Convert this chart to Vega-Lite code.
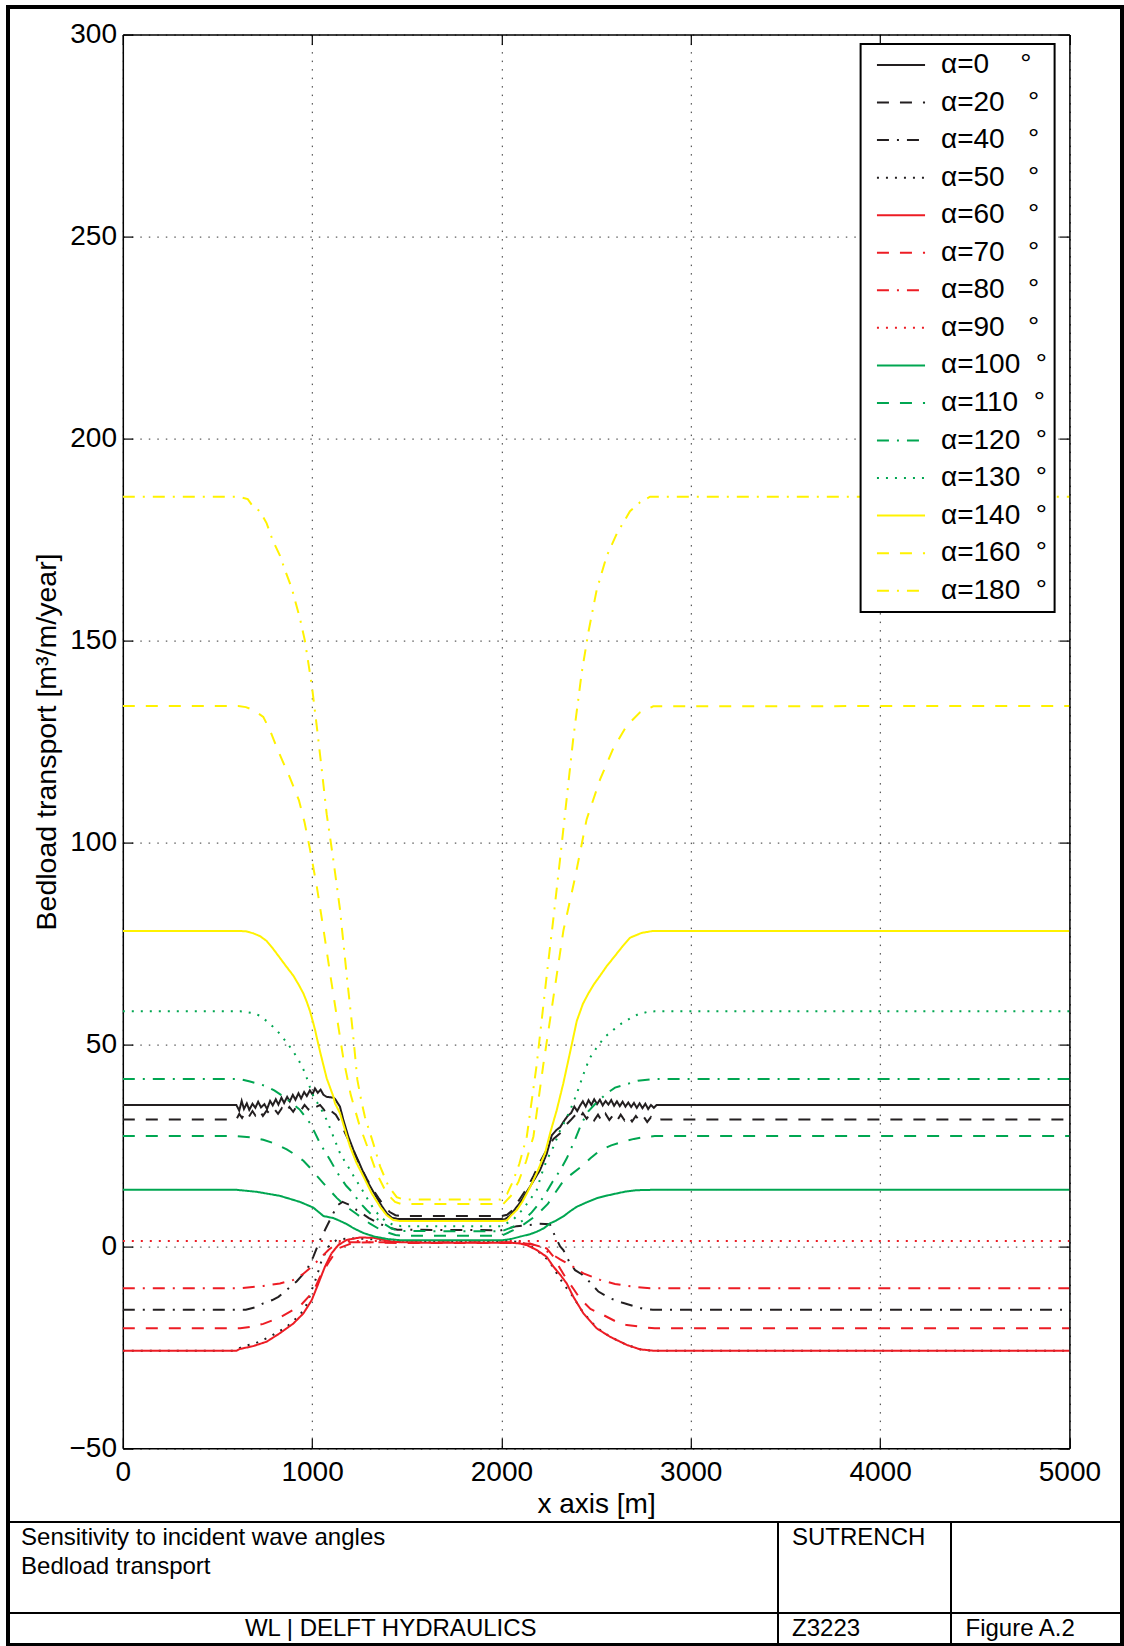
{
  "$schema": "https://vega.github.io/schema/vega-lite/v6.json",
  "width": 946.6,
  "height": 1413.7,
  "autosize": {"type": "none"},
  "padding": {"left": 122.8, "top": 34.6, "right": 54.6, "bottom": 197.7},
  "background": "white",
  "config": {
    "font": "Liberation Sans",
    "view": {"stroke": null},
    "legend": {"strokeColor": "black", "strokeWidth": 2, "fillColor": "white"}
  },
  "datasets": {
    "curves": [
      {"a":"0","x":0,"y":35.0},{"a":"0","x":600,"y":35.0},{"a":"0","x":615,"y":33.6},{"a":"0","x":628,"y":36.0},{"a":"0","x":640,"y":34.0},{"a":"0","x":655,"y":35.4},{"a":"0","x":668,"y":33.8},{"a":"0","x":685,"y":35.3},{"a":"0","x":700,"y":34.3},{"a":"0","x":715,"y":35.8},{"a":"0","x":730,"y":34.4},{"a":"0","x":748,"y":35.2},{"a":"0","x":762,"y":34.0},{"a":"0","x":778,"y":36.0},{"a":"0","x":792,"y":34.9},{"a":"0","x":808,"y":36.4},{"a":"0","x":822,"y":35.1},{"a":"0","x":838,"y":36.8},{"a":"0","x":852,"y":35.5},{"a":"0","x":868,"y":37.0},{"a":"0","x":882,"y":35.9},{"a":"0","x":898,"y":37.5},{"a":"0","x":912,"y":36.3},{"a":"0","x":928,"y":37.9},{"a":"0","x":942,"y":36.6},{"a":"0","x":958,"y":38.2},{"a":"0","x":972,"y":37.2},{"a":"0","x":988,"y":38.6},{"a":"0","x":1002,"y":37.6},{"a":"0","x":1015,"y":39.1},{"a":"0","x":1030,"y":38.0},{"a":"0","x":1045,"y":38.8},{"a":"0","x":1060,"y":37.5},{"a":"0","x":1077,"y":37.0},{"a":"0","x":1112,"y":36.8},{"a":"0","x":1121,"y":36.5},{"a":"0","x":1147,"y":34.6},{"a":"0","x":1165,"y":31.3},{"a":"0","x":1191,"y":27.2},{"a":"0","x":1218,"y":23.9},{"a":"0","x":1253,"y":20.2},{"a":"0","x":1288,"y":16.4},{"a":"0","x":1332,"y":12.8},{"a":"0","x":1368,"y":10.0},{"a":"0","x":1394,"y":8.2},{"a":"0","x":1421,"y":7.1},{"a":"0","x":1450,"y":6.8},{"a":"0","x":2000,"y":6.8},{"a":"0","x":2015,"y":6.6},{"a":"0","x":2045,"y":7.6},{"a":"0","x":2098,"y":10.8},{"a":"0","x":2151,"y":14.8},{"a":"0","x":2204,"y":18.9},{"a":"0","x":2239,"y":22.9},{"a":"0","x":2266,"y":27.5},{"a":"0","x":2290,"y":28.8},{"a":"0","x":2310,"y":29.5},{"a":"0","x":2330,"y":31.0},{"a":"0","x":2350,"y":32.3},{"a":"0","x":2368,"y":33.0},{"a":"0","x":2385,"y":34.6},{"a":"0","x":2400,"y":33.5},{"a":"0","x":2415,"y":34.8},{"a":"0","x":2430,"y":35.9},{"a":"0","x":2445,"y":34.6},{"a":"0","x":2460,"y":36.2},{"a":"0","x":2475,"y":35.0},{"a":"0","x":2490,"y":36.4},{"a":"0","x":2505,"y":35.2},{"a":"0","x":2520,"y":36.3},{"a":"0","x":2535,"y":34.9},{"a":"0","x":2550,"y":36.0},{"a":"0","x":2565,"y":35.1},{"a":"0","x":2580,"y":36.2},{"a":"0","x":2595,"y":34.8},{"a":"0","x":2610,"y":35.9},{"a":"0","x":2625,"y":34.7},{"a":"0","x":2640,"y":35.8},{"a":"0","x":2655,"y":34.6},{"a":"0","x":2670,"y":35.6},{"a":"0","x":2685,"y":34.5},{"a":"0","x":2700,"y":35.5},{"a":"0","x":2715,"y":34.3},{"a":"0","x":2730,"y":35.4},{"a":"0","x":2745,"y":34.2},{"a":"0","x":2760,"y":35.3},{"a":"0","x":2775,"y":34.0},{"a":"0","x":2790,"y":35.0},{"a":"0","x":2805,"y":34.3},{"a":"0","x":2820,"y":35.0},{"a":"0","x":5000,"y":35.0},

      {"a":"20","x":0,"y":31.4},{"a":"20","x":600,"y":31.4},{"a":"20","x":615,"y":32.8},{"a":"20","x":630,"y":31.8},{"a":"20","x":648,"y":33.2},{"a":"20","x":665,"y":32.0},{"a":"20","x":685,"y":33.5},{"a":"20","x":700,"y":32.4},{"a":"20","x":720,"y":33.8},{"a":"20","x":740,"y":32.3},{"a":"20","x":760,"y":33.6},{"a":"20","x":780,"y":32.6},{"a":"20","x":800,"y":34.0},{"a":"20","x":820,"y":32.8},{"a":"20","x":840,"y":34.2},{"a":"20","x":860,"y":33.0},{"a":"20","x":880,"y":34.5},{"a":"20","x":900,"y":33.3},{"a":"20","x":920,"y":34.8},{"a":"20","x":940,"y":33.6},{"a":"20","x":960,"y":35.0},{"a":"20","x":980,"y":33.9},{"a":"20","x":1000,"y":35.3},{"a":"20","x":1020,"y":34.5},{"a":"20","x":1042,"y":35.0},{"a":"20","x":1060,"y":34.0},{"a":"20","x":1080,"y":32.5},{"a":"20","x":1100,"y":33.5},{"a":"20","x":1125,"y":32.6},{"a":"20","x":1150,"y":30.6},{"a":"20","x":1175,"y":28.0},{"a":"20","x":1200,"y":25.5},{"a":"20","x":1230,"y":22.3},{"a":"20","x":1260,"y":19.4},{"a":"20","x":1290,"y":16.6},{"a":"20","x":1320,"y":14.2},{"a":"20","x":1350,"y":12.0},{"a":"20","x":1380,"y":10.0},{"a":"20","x":1410,"y":8.5},{"a":"20","x":1440,"y":7.7},{"a":"20","x":1470,"y":7.5},{"a":"20","x":2000,"y":7.5},{"a":"20","x":2030,"y":7.8},{"a":"20","x":2060,"y":9.0},{"a":"20","x":2098,"y":11.8},{"a":"20","x":2134,"y":14.3},{"a":"20","x":2170,"y":17.5},{"a":"20","x":2205,"y":21.0},{"a":"20","x":2240,"y":24.0},{"a":"20","x":2275,"y":26.6},{"a":"20","x":2310,"y":28.0},{"a":"20","x":2340,"y":30.0},{"a":"20","x":2365,"y":31.2},{"a":"20","x":2390,"y":32.5},{"a":"20","x":2410,"y":31.4},{"a":"20","x":2430,"y":33.0},{"a":"20","x":2450,"y":31.6},{"a":"20","x":2470,"y":32.9},{"a":"20","x":2490,"y":31.2},{"a":"20","x":2510,"y":32.6},{"a":"20","x":2530,"y":31.0},{"a":"20","x":2550,"y":32.8},{"a":"20","x":2570,"y":31.3},{"a":"20","x":2590,"y":32.5},{"a":"20","x":2610,"y":31.0},{"a":"20","x":2630,"y":32.6},{"a":"20","x":2650,"y":31.2},{"a":"20","x":2670,"y":32.4},{"a":"20","x":2690,"y":30.9},{"a":"20","x":2710,"y":32.3},{"a":"20","x":2730,"y":31.0},{"a":"20","x":2750,"y":32.2},{"a":"20","x":2770,"y":30.8},{"a":"20","x":2790,"y":32.0},{"a":"20","x":2810,"y":31.0},{"a":"20","x":2840,"y":31.4},{"a":"20","x":5000,"y":31.4},

      {"a":"40","x":0,"y":-15.7},{"a":"40","x":650,"y":-15.7},{"a":"40","x":707,"y":-15.0},{"a":"40","x":742,"y":-14.1},{"a":"40","x":790,"y":-13.3},{"a":"40","x":822,"y":-12.5},{"a":"40","x":866,"y":-10.8},{"a":"40","x":918,"y":-8.7},{"a":"40","x":971,"y":-5.9},{"a":"40","x":1006,"y":-2.6},{"a":"40","x":1042,"y":1.6},{"a":"40","x":1077,"y":4.9},{"a":"40","x":1112,"y":8.2},{"a":"40","x":1138,"y":10.3},{"a":"40","x":1160,"y":11.0},{"a":"40","x":1200,"y":10.2},{"a":"40","x":1235,"y":9.0},{"a":"40","x":1300,"y":7.0},{"a":"40","x":1360,"y":5.5},{"a":"40","x":1411,"y":4.6},{"a":"40","x":1450,"y":4.1},{"a":"40","x":2000,"y":4.0},{"a":"40","x":2040,"y":4.5},{"a":"40","x":2081,"y":5.0},{"a":"40","x":2150,"y":5.3},{"a":"40","x":2200,"y":5.6},{"a":"40","x":2256,"y":5.5},{"a":"40","x":2283,"y":2.5},{"a":"40","x":2310,"y":0.0},{"a":"40","x":2327,"y":-0.9},{"a":"40","x":2360,"y":-4.0},{"a":"40","x":2389,"y":-5.9},{"a":"40","x":2424,"y":-6.9},{"a":"40","x":2470,"y":-9.0},{"a":"40","x":2512,"y":-11.2},{"a":"40","x":2570,"y":-12.8},{"a":"40","x":2636,"y":-13.9},{"a":"40","x":2700,"y":-14.8},{"a":"40","x":2750,"y":-15.5},{"a":"40","x":2800,"y":-15.7},{"a":"40","x":5000,"y":-15.7},

      {"a":"50","x":0,"y":-25.85},{"a":"50","x":590,"y":-25.85},{"a":"50","x":628,"y":-24.9},{"a":"50","x":700,"y":-24.0},{"a":"50","x":777,"y":-22.4},{"a":"50","x":866,"y":-19.9},{"a":"50","x":936,"y":-17.0},{"a":"50","x":975,"y":-14.1},{"a":"50","x":998,"y":-10.8},{"a":"50","x":1024,"y":-7.5},{"a":"50","x":1051,"y":-3.4},{"a":"50","x":1086,"y":-0.1},{"a":"50","x":1130,"y":1.6},{"a":"50","x":1200,"y":2.0},{"a":"50","x":1300,"y":1.8},{"a":"50","x":1400,"y":1.5},{"a":"50","x":1500,"y":1.3},{"a":"50","x":2050,"y":1.3},{"a":"50","x":2100,"y":1.0},{"a":"50","x":2150,"y":0.2},{"a":"50","x":2200,"y":-1.5},{"a":"50","x":2250,"y":-3.5},{"a":"50","x":2290,"y":-6.5},{"a":"50","x":2330,"y":-9.5},{"a":"50","x":2371,"y":-12.0},{"a":"50","x":2430,"y":-16.3},{"a":"50","x":2500,"y":-20.0},{"a":"50","x":2574,"y":-22.4},{"a":"50","x":2662,"y":-24.4},{"a":"50","x":2740,"y":-25.6},{"a":"50","x":2800,"y":-25.85},{"a":"50","x":5000,"y":-25.85},

      {"a":"60","x":0,"y":-25.85},{"a":"60","x":600,"y":-25.85},{"a":"60","x":619,"y":-25.4},{"a":"60","x":689,"y":-24.7},{"a":"60","x":760,"y":-23.6},{"a":"60","x":830,"y":-21.5},{"a":"60","x":901,"y":-19.1},{"a":"60","x":954,"y":-16.6},{"a":"60","x":998,"y":-13.3},{"a":"60","x":1033,"y":-9.2},{"a":"60","x":1068,"y":-5.0},{"a":"60","x":1103,"y":-1.7},{"a":"60","x":1138,"y":0.3},{"a":"60","x":1183,"y":1.6},{"a":"60","x":1253,"y":2.2},{"a":"60","x":1324,"y":2.1},{"a":"60","x":1429,"y":1.1},{"a":"60","x":1570,"y":0.9},{"a":"60","x":2050,"y":0.9},{"a":"60","x":2100,"y":0.7},{"a":"60","x":2134,"y":0.3},{"a":"60","x":2186,"y":-0.9},{"a":"60","x":2239,"y":-2.6},{"a":"60","x":2274,"y":-5.0},{"a":"60","x":2310,"y":-7.0},{"a":"60","x":2345,"y":-9.2},{"a":"60","x":2380,"y":-12.5},{"a":"60","x":2433,"y":-16.6},{"a":"60","x":2503,"y":-20.3},{"a":"60","x":2574,"y":-22.4},{"a":"60","x":2662,"y":-24.4},{"a":"60","x":2732,"y":-25.5},{"a":"60","x":2802,"y":-25.85},{"a":"60","x":5000,"y":-25.85},

      {"a":"70","x":0,"y":-20.3},{"a":"70","x":620,"y":-20.3},{"a":"70","x":680,"y":-19.9},{"a":"70","x":742,"y":-19.2},{"a":"70","x":830,"y":-17.6},{"a":"70","x":936,"y":-14.8},{"a":"70","x":1006,"y":-11.2},{"a":"70","x":1042,"y":-7.5},{"a":"70","x":1095,"y":-3.4},{"a":"70","x":1138,"y":-0.5},{"a":"70","x":1218,"y":0.9},{"a":"70","x":1324,"y":1.0},{"a":"70","x":1450,"y":0.8},{"a":"70","x":2100,"y":0.8},{"a":"70","x":2150,"y":0.6},{"a":"70","x":2200,"y":0.0},{"a":"70","x":2239,"y":-0.5},{"a":"70","x":2274,"y":-2.5},{"a":"70","x":2310,"y":-5.5},{"a":"70","x":2336,"y":-7.5},{"a":"70","x":2380,"y":-10.5},{"a":"70","x":2415,"y":-12.9},{"a":"70","x":2470,"y":-15.5},{"a":"70","x":2538,"y":-17.0},{"a":"70","x":2600,"y":-18.5},{"a":"70","x":2662,"y":-19.5},{"a":"70","x":2768,"y":-20.1},{"a":"70","x":2810,"y":-20.3},{"a":"70","x":5000,"y":-20.3},

      {"a":"80","x":0,"y":-10.4},{"a":"80","x":620,"y":-10.4},{"a":"80","x":742,"y":-9.8},{"a":"80","x":830,"y":-9.2},{"a":"80","x":901,"y":-8.3},{"a":"80","x":954,"y":-6.8},{"a":"80","x":998,"y":-5.0},{"a":"80","x":1042,"y":-3.0},{"a":"80","x":1086,"y":-0.9},{"a":"80","x":1130,"y":0.7},{"a":"80","x":1200,"y":1.0},{"a":"80","x":2100,"y":1.0},{"a":"80","x":2150,"y":0.7},{"a":"80","x":2200,"y":0.0},{"a":"80","x":2250,"y":-1.5},{"a":"80","x":2310,"y":-3.2},{"a":"80","x":2363,"y":-4.6},{"a":"80","x":2433,"y":-6.7},{"a":"80","x":2521,"y":-8.3},{"a":"80","x":2600,"y":-9.3},{"a":"80","x":2662,"y":-9.8},{"a":"80","x":2785,"y":-10.4},{"a":"80","x":5000,"y":-10.4},

      {"a":"90","x":0,"y":1.3},{"a":"90","x":5000,"y":1.3},

      {"a":"100","x":0,"y":14.0},{"a":"100","x":600,"y":14.0},{"a":"100","x":707,"y":13.5},{"a":"100","x":830,"y":12.5},{"a":"100","x":936,"y":11.0},{"a":"100","x":1006,"y":9.6},{"a":"100","x":1060,"y":7.5},{"a":"100","x":1112,"y":7.0},{"a":"100","x":1147,"y":6.3},{"a":"100","x":1183,"y":5.5},{"a":"100","x":1218,"y":4.5},{"a":"100","x":1271,"y":3.3},{"a":"100","x":1330,"y":2.4},{"a":"100","x":1400,"y":1.8},{"a":"100","x":1470,"y":1.5},{"a":"100","x":2000,"y":1.5},{"a":"100","x":2050,"y":1.8},{"a":"100","x":2098,"y":2.4},{"a":"100","x":2150,"y":3.0},{"a":"100","x":2186,"y":3.6},{"a":"100","x":2225,"y":4.5},{"a":"100","x":2257,"y":5.7},{"a":"100","x":2290,"y":6.4},{"a":"100","x":2327,"y":7.4},{"a":"100","x":2360,"y":8.6},{"a":"100","x":2398,"y":9.8},{"a":"100","x":2450,"y":10.9},{"a":"100","x":2503,"y":11.9},{"a":"100","x":2560,"y":12.6},{"a":"100","x":2609,"y":13.1},{"a":"100","x":2660,"y":13.6},{"a":"100","x":2715,"y":13.9},{"a":"100","x":2800,"y":14.0},{"a":"100","x":5000,"y":14.0},

      {"a":"110","x":0,"y":27.3},{"a":"110","x":600,"y":27.3},{"a":"110","x":680,"y":27.0},{"a":"110","x":742,"y":26.4},{"a":"110","x":800,"y":25.5},{"a":"110","x":866,"y":24.0},{"a":"110","x":910,"y":22.7},{"a":"110","x":954,"y":21.2},{"a":"110","x":990,"y":19.4},{"a":"110","x":1024,"y":17.5},{"a":"110","x":1060,"y":15.6},{"a":"110","x":1095,"y":13.8},{"a":"110","x":1130,"y":12.0},{"a":"110","x":1165,"y":10.5},{"a":"110","x":1200,"y":9.2},{"a":"110","x":1235,"y":8.0},{"a":"110","x":1270,"y":6.8},{"a":"110","x":1306,"y":5.6},{"a":"110","x":1350,"y":4.4},{"a":"110","x":1394,"y":3.5},{"a":"110","x":1440,"y":2.8},{"a":"110","x":1480,"y":2.6},{"a":"110","x":2000,"y":2.6},{"a":"110","x":2063,"y":4.0},{"a":"110","x":2120,"y":5.5},{"a":"110","x":2180,"y":7.5},{"a":"110","x":2245,"y":10.5},{"a":"110","x":2280,"y":13.0},{"a":"110","x":2318,"y":15.6},{"a":"110","x":2360,"y":17.5},{"a":"110","x":2415,"y":19.5},{"a":"110","x":2470,"y":21.8},{"a":"110","x":2521,"y":23.8},{"a":"110","x":2580,"y":25.0},{"a":"110","x":2635,"y":25.8},{"a":"110","x":2700,"y":26.6},{"a":"110","x":2759,"y":27.1},{"a":"110","x":2810,"y":27.3},{"a":"110","x":5000,"y":27.3},

      {"a":"120","x":0,"y":41.4},{"a":"120","x":620,"y":41.4},{"a":"120","x":672,"y":40.8},{"a":"120","x":720,"y":40.2},{"a":"120","x":760,"y":39.6},{"a":"120","x":800,"y":38.6},{"a":"120","x":848,"y":37.1},{"a":"120","x":890,"y":35.6},{"a":"120","x":936,"y":33.8},{"a":"120","x":960,"y":32.3},{"a":"120","x":989,"y":30.5},{"a":"120","x":1015,"y":28.1},{"a":"120","x":1042,"y":25.5},{"a":"120","x":1070,"y":23.3},{"a":"120","x":1095,"y":21.4},{"a":"120","x":1120,"y":19.3},{"a":"120","x":1147,"y":17.2},{"a":"120","x":1180,"y":15.0},{"a":"120","x":1218,"y":13.1},{"a":"120","x":1250,"y":10.9},{"a":"120","x":1288,"y":9.0},{"a":"120","x":1330,"y":7.2},{"a":"120","x":1376,"y":5.7},{"a":"120","x":1420,"y":4.4},{"a":"120","x":1460,"y":3.8},{"a":"120","x":2000,"y":3.7},{"a":"120","x":2060,"y":4.8},{"a":"120","x":2116,"y":6.5},{"a":"120","x":2160,"y":8.4},{"a":"120","x":2195,"y":10.4},{"a":"120","x":2235,"y":13.2},{"a":"120","x":2270,"y":16.0},{"a":"120","x":2310,"y":18.8},{"a":"120","x":2345,"y":21.8},{"a":"120","x":2385,"y":26.0},{"a":"120","x":2424,"y":30.5},{"a":"120","x":2460,"y":33.5},{"a":"120","x":2500,"y":35.5},{"a":"120","x":2560,"y":38.0},{"a":"120","x":2600,"y":39.3},{"a":"120","x":2644,"y":39.9},{"a":"120","x":2720,"y":41.0},{"a":"120","x":2800,"y":41.4},{"a":"120","x":5000,"y":41.4},

      {"a":"130","x":0,"y":58.2},{"a":"130","x":620,"y":58.2},{"a":"130","x":680,"y":57.8},{"a":"130","x":725,"y":57.1},{"a":"130","x":780,"y":55.0},{"a":"130","x":830,"y":52.6},{"a":"130","x":870,"y":50.2},{"a":"130","x":901,"y":48.2},{"a":"130","x":930,"y":46.0},{"a":"130","x":954,"y":43.8},{"a":"130","x":975,"y":41.3},{"a":"130","x":989,"y":39.3},{"a":"130","x":1010,"y":36.8},{"a":"130","x":1042,"y":34.5},{"a":"130","x":1077,"y":31.3},{"a":"130","x":1112,"y":27.2},{"a":"130","x":1147,"y":23.1},{"a":"130","x":1175,"y":20.8},{"a":"130","x":1200,"y":19.0},{"a":"130","x":1225,"y":16.9},{"a":"130","x":1253,"y":14.9},{"a":"130","x":1280,"y":12.7},{"a":"130","x":1306,"y":10.7},{"a":"130","x":1330,"y":9.0},{"a":"130","x":1359,"y":7.4},{"a":"130","x":1390,"y":6.2},{"a":"130","x":1429,"y":5.3},{"a":"130","x":1470,"y":5.0},{"a":"130","x":2000,"y":5.0},{"a":"130","x":2060,"y":6.5},{"a":"130","x":2110,"y":9.0},{"a":"130","x":2150,"y":11.5},{"a":"130","x":2186,"y":13.9},{"a":"130","x":2213,"y":18.0},{"a":"130","x":2239,"y":21.3},{"a":"130","x":2274,"y":24.6},{"a":"130","x":2310,"y":28.7},{"a":"130","x":2335,"y":31.0},{"a":"130","x":2363,"y":33.7},{"a":"130","x":2398,"y":37.8},{"a":"130","x":2433,"y":42.6},{"a":"130","x":2465,"y":46.5},{"a":"130","x":2503,"y":49.2},{"a":"130","x":2545,"y":51.8},{"a":"130","x":2591,"y":53.6},{"a":"130","x":2635,"y":55.2},{"a":"130","x":2679,"y":56.4},{"a":"130","x":2720,"y":57.4},{"a":"130","x":2767,"y":58.0},{"a":"130","x":2810,"y":58.2},{"a":"130","x":5000,"y":58.2},

      {"a":"140","x":0,"y":78.1},{"a":"140","x":600,"y":78.1},{"a":"140","x":650,"y":78.0},{"a":"140","x":689,"y":77.5},{"a":"140","x":725,"y":76.8},{"a":"140","x":760,"y":75.6},{"a":"140","x":795,"y":73.6},{"a":"140","x":830,"y":71.4},{"a":"140","x":865,"y":69.2},{"a":"140","x":901,"y":67.0},{"a":"140","x":930,"y":64.7},{"a":"140","x":954,"y":62.6},{"a":"140","x":972,"y":60.5},{"a":"140","x":989,"y":58.2},{"a":"140","x":1002,"y":56.0},{"a":"140","x":1015,"y":53.7},{"a":"140","x":1028,"y":51.0},{"a":"140","x":1042,"y":48.2},{"a":"140","x":1060,"y":44.8},{"a":"140","x":1077,"y":41.6},{"a":"140","x":1095,"y":39.3},{"a":"140","x":1112,"y":37.1},{"a":"140","x":1121,"y":35.4},{"a":"140","x":1147,"y":33.0},{"a":"140","x":1174,"y":28.8},{"a":"140","x":1200,"y":24.7},{"a":"140","x":1235,"y":20.6},{"a":"140","x":1271,"y":17.3},{"a":"140","x":1315,"y":13.1},{"a":"140","x":1359,"y":9.8},{"a":"140","x":1394,"y":7.7},{"a":"140","x":1429,"y":6.5},{"a":"140","x":1460,"y":6.3},{"a":"140","x":2010,"y":6.3},{"a":"140","x":2028,"y":6.4},{"a":"140","x":2050,"y":7.6},{"a":"140","x":2081,"y":9.0},{"a":"140","x":2110,"y":11.0},{"a":"140","x":2134,"y":13.1},{"a":"140","x":2160,"y":15.5},{"a":"140","x":2186,"y":18.1},{"a":"140","x":2210,"y":20.8},{"a":"140","x":2230,"y":23.0},{"a":"140","x":2257,"y":28.0},{"a":"140","x":2292,"y":33.7},{"a":"140","x":2327,"y":40.4},{"a":"140","x":2360,"y":47.5},{"a":"140","x":2398,"y":55.8},{"a":"140","x":2430,"y":60.0},{"a":"140","x":2459,"y":62.6},{"a":"140","x":2490,"y":65.0},{"a":"140","x":2521,"y":67.0},{"a":"140","x":2555,"y":69.3},{"a":"140","x":2591,"y":71.4},{"a":"140","x":2635,"y":74.0},{"a":"140","x":2679,"y":76.4},{"a":"140","x":2740,"y":77.6},{"a":"140","x":2802,"y":78.1},{"a":"140","x":5000,"y":78.1},

      {"a":"160","x":0,"y":133.8},{"a":"160","x":610,"y":133.8},{"a":"160","x":650,"y":133.5},{"a":"160","x":690,"y":132.8},{"a":"160","x":742,"y":131.1},{"a":"160","x":780,"y":127.5},{"a":"160","x":813,"y":123.5},{"a":"160","x":850,"y":119.5},{"a":"160","x":883,"y":116.0},{"a":"160","x":930,"y":110.5},{"a":"160","x":960,"y":105.0},{"a":"160","x":990,"y":98.0},{"a":"160","x":1025,"y":89.0},{"a":"160","x":1060,"y":78.5},{"a":"160","x":1095,"y":67.5},{"a":"160","x":1130,"y":57.0},{"a":"160","x":1165,"y":46.5},{"a":"160","x":1204,"y":37.5},{"a":"160","x":1250,"y":30.0},{"a":"160","x":1297,"y":24.0},{"a":"160","x":1341,"y":18.1},{"a":"160","x":1394,"y":13.1},{"a":"160","x":1438,"y":11.0},{"a":"160","x":1470,"y":10.5},{"a":"160","x":2010,"y":10.5},{"a":"160","x":2050,"y":12.5},{"a":"160","x":2090,"y":16.0},{"a":"160","x":2130,"y":21.0},{"a":"160","x":2169,"y":27.2},{"a":"160","x":2221,"y":44.9},{"a":"160","x":2274,"y":61.5},{"a":"160","x":2327,"y":78.1},{"a":"160","x":2389,"y":91.3},{"a":"160","x":2450,"y":105.7},{"a":"160","x":2521,"y":115.6},{"a":"160","x":2591,"y":123.3},{"a":"160","x":2662,"y":128.9},{"a":"160","x":2732,"y":132.2},{"a":"160","x":2802,"y":133.7},{"a":"160","x":5000,"y":133.8},

      {"a":"180","x":0,"y":185.6},{"a":"180","x":610,"y":185.6},{"a":"180","x":660,"y":185.0},{"a":"180","x":690,"y":183.0},{"a":"180","x":725,"y":182.0},{"a":"180","x":760,"y":179.0},{"a":"180","x":790,"y":175.0},{"a":"180","x":830,"y":171.0},{"a":"180","x":860,"y":167.0},{"a":"180","x":892,"y":163.0},{"a":"180","x":936,"y":155.4},{"a":"180","x":962,"y":149.9},{"a":"180","x":998,"y":139.0},{"a":"180","x":1024,"y":129.0},{"a":"180","x":1051,"y":118.0},{"a":"180","x":1077,"y":107.0},{"a":"180","x":1112,"y":95.7},{"a":"180","x":1147,"y":83.5},{"a":"180","x":1183,"y":67.0},{"a":"180","x":1216,"y":52.6},{"a":"180","x":1239,"y":41.2},{"a":"180","x":1260,"y":36.0},{"a":"180","x":1279,"y":32.0},{"a":"180","x":1323,"y":25.5},{"a":"180","x":1359,"y":19.8},{"a":"180","x":1403,"y":14.9},{"a":"180","x":1447,"y":12.2},{"a":"180","x":1480,"y":11.6},{"a":"180","x":1995,"y":11.6},{"a":"180","x":2030,"y":13.0},{"a":"180","x":2060,"y":16.0},{"a":"180","x":2095,"y":20.5},{"a":"180","x":2134,"y":27.2},{"a":"180","x":2186,"y":44.9},{"a":"180","x":2239,"y":67.0},{"a":"180","x":2274,"y":81.0},{"a":"180","x":2310,"y":96.0},{"a":"180","x":2345,"y":111.0},{"a":"180","x":2380,"y":126.0},{"a":"180","x":2424,"y":142.0},{"a":"180","x":2459,"y":152.0},{"a":"180","x":2503,"y":162.5},{"a":"180","x":2556,"y":170.9},{"a":"180","x":2609,"y":176.4},{"a":"180","x":2679,"y":182.0},{"a":"180","x":2732,"y":184.2},{"a":"180","x":2785,"y":185.6},{"a":"180","x":5000,"y":185.6}
    ]
  },
  "layer": [
    {
      "data": {"name": "curves"},
      "mark": {"type": "line", "strokeWidth": 2, "clip": true},
      "encoding": {
        "x": {
          "field": "x", "type": "quantitative",
          "scale": {"domain": [0, 5000], "nice": false, "zero": false},
          "axis": {
            "orient": "bottom", "values": [0, 1000, 2000, 3000, 4000, 5000], "format": "d",
            "title": "x axis [m]", "grid": true, "gridColor": "#333", "gridDash": [1.5, 7], "gridWidth": 1,
            "tickSize": -10, "tickColor": "black", "tickWidth": 1.2,
            "domainColor": "black", "domainWidth": 1.5,
            "labelFont": "Liberation Sans", "labelFontSize": 28, "labelColor": "black", "labelPadding": 20.6,
            "labelFlush": false, "labelOverlap": false,
            "titleFont": "Liberation Sans", "titleFontSize": 28, "titleFontWeight": "normal", "titleColor": "black", "titlePadding": 4
          }
        },
        "y": {
          "field": "y", "type": "quantitative",
          "scale": {"domain": [-50, 300], "nice": false, "zero": false},
          "axis": {
            "orient": "left", "values": [-50, 0, 50, 100, 150, 200, 250, 300], "format": "d",
            "title": "Bedload transport [m³/m/year]", "grid": true, "gridColor": "#333", "gridDash": [1.5, 7], "gridWidth": 1,
            "tickSize": -10, "tickColor": "black", "tickWidth": 1.2,
            "domainColor": "black", "domainWidth": 1.5,
            "labelFont": "Liberation Sans", "labelFontSize": 28, "labelColor": "black", "labelPadding": 16.3,
            "labelFlush": false, "labelOverlap": false,
            "titleFont": "Liberation Sans", "titleFontSize": 28.5, "titleFontWeight": "normal", "titleColor": "black", "titlePadding": 8
          }
        },
        "color": {
          "field": "a", "type": "nominal",
          "scale": {
            "domain": ["0","20","40","50","60","70","80","90","100","110","120","130","140","160","180"],
            "range": ["#231f20","#231f20","#231f20","#231f20","#ed1c24","#ed1c24","#ed1c24","#ed1c24","#00a651","#00a651","#00a651","#00a651","#fff200","#fff200","#fff200"]
          },
          "legend": {
            "orient": "none", "legendX": 737.8, "legendY": 9.4, "title": null,
            "labelExpr": "'α=' + datum.label + (length(datum.label) == 1 ? '\u00a0\u00a0\u00a0\u00a0°\u00a0\u2009' : (length(datum.label) == 2 ? '\u00a0\u00a0\u00a0°\u00a0\u2009' : '\u00a0\u00a0°\u00a0\u2009'))",
            "labelFont": "Liberation Sans", "labelFontSize": 28, "labelColor": "black", "labelLimit": 0,
            "symbolType": "M-1.85,0H1.85", "symbolSize": 676, "symbolStrokeWidth": 2,
            "symbolOffset": 19.4, "labelOffset": 26, "rowPadding": 9.55, "padding": 7
          }
        },
        "strokeDash": {
          "field": "a", "type": "nominal",
          "scale": {
            "domain": ["0","20","40","50","60","70","80","90","100","110","120","130","140","160","180"],
            "range": [[1,0],[12,11],[12,8,2,8],[2,7],[1,0],[12,11],[12,8,2,8],[2,7],[1,0],[12,11],[12,8,2,8],[2,7],[1,0],[12,11],[12,8,2,8]]
          },
          "legend": {
            "orient": "none", "legendX": 737.8, "legendY": 9.4, "title": null,
            "labelExpr": "'α=' + datum.label + (length(datum.label) == 1 ? '\u00a0\u00a0\u00a0\u00a0°\u00a0\u2009' : (length(datum.label) == 2 ? '\u00a0\u00a0\u00a0°\u00a0\u2009' : '\u00a0\u00a0°\u00a0\u2009'))",
            "labelFont": "Liberation Sans", "labelFontSize": 28, "labelColor": "black", "labelLimit": 0,
            "symbolType": "M-1.85,0H1.85", "symbolSize": 676, "symbolStrokeWidth": 2,
            "symbolOffset": 19.4, "labelOffset": 26, "rowPadding": 9.55, "padding": 7
          }
        }
      }
    },
    {
      "data": {"name": "curves"},
      "mark": {"type": "point", "opacity": 0},
      "encoding": {
        "x": {
          "field": "x", "type": "quantitative",
          "scale": {"domain": [0, 5000], "nice": false, "zero": false},
          "axis": {"orient": "top", "values": [0, 1000, 2000, 3000, 4000, 5000], "labels": false, "title": null, "grid": false,
                   "tickSize": -10, "tickColor": "black", "tickWidth": 1.2, "domainColor": "black", "domainWidth": 1.5}
        },
        "y": {
          "field": "y", "type": "quantitative",
          "scale": {"domain": [-50, 300], "nice": false, "zero": false},
          "axis": {"orient": "right", "values": [-50, 0, 50, 100, 150, 200, 250, 300], "labels": false, "title": null, "grid": false,
                   "tickSize": -10, "tickColor": "black", "tickWidth": 1.2, "domainColor": "black", "domainWidth": 1.5}
        }
      }
    },
    {
      "layer": [
        {
          "data": {"values": [{"x1": 0, "x2": 1, "y1": 0, "y2": 1}]},
          "mark": {"type": "rect", "filled": false, "stroke": "black", "strokeWidth": 4},
          "encoding": {
            "x": {"field": "x1", "type": "quantitative", "scale": {"domain": [0, 1], "range": [-114.8, 999.2], "nice": false, "zero": false}, "axis": null},
            "x2": {"field": "x2"},
            "y": {"field": "y1", "type": "quantitative", "scale": {"domain": [0, 1], "range": [-27.6, 1610.4], "nice": false, "zero": false}, "axis": null},
            "y2": {"field": "y2"}
          }
        },
        {
          "data": {"values": [
            {"x1": 0, "x2": 1, "y1": 0.9249, "y2": 0.9249},
            {"x1": 0, "x2": 1, "y1": 0.9805, "y2": 0.9805},
            {"x1": 0.6912, "x2": 0.6912, "y1": 0.9249, "y2": 1},
            {"x1": 0.8465, "x2": 0.8465, "y1": 0.9249, "y2": 1}
          ]},
          "mark": {"type": "rule", "stroke": "black", "strokeWidth": 2},
          "encoding": {
            "x": {"field": "x1", "type": "quantitative", "axis": null},
            "x2": {"field": "x2"},
            "y": {"field": "y1", "type": "quantitative", "axis": null},
            "y2": {"field": "y2"}
          }
        },
        {
          "data": {"values": [
            {"tx": 0.0117, "ty": 0.9344, "t": "Sensitivity to incident wave angles"},
            {"tx": 0.0117, "ty": 0.9524, "t": "Bedload transport"},
            {"tx": 0.2127, "ty": 0.9902, "t": "WL | DELFT HYDRAULICS"},
            {"tx": 0.7038, "ty": 0.9344, "t": "SUTRENCH"},
            {"tx": 0.7038, "ty": 0.9902, "t": "Z3223"},
            {"tx": 0.8595, "ty": 0.9902, "t": "Figure A.2"}
          ]},
          "mark": {"type": "text", "align": "left", "baseline": "middle", "font": "Liberation Sans", "fontSize": 24, "color": "black"},
          "encoding": {
            "x": {"field": "tx", "type": "quantitative", "axis": null},
            "y": {"field": "ty", "type": "quantitative", "axis": null},
            "text": {"field": "t"}
          }
        }
      ]
    }
  ],
  "resolve": {"scale": {"x": "independent", "y": "independent"}}
}
